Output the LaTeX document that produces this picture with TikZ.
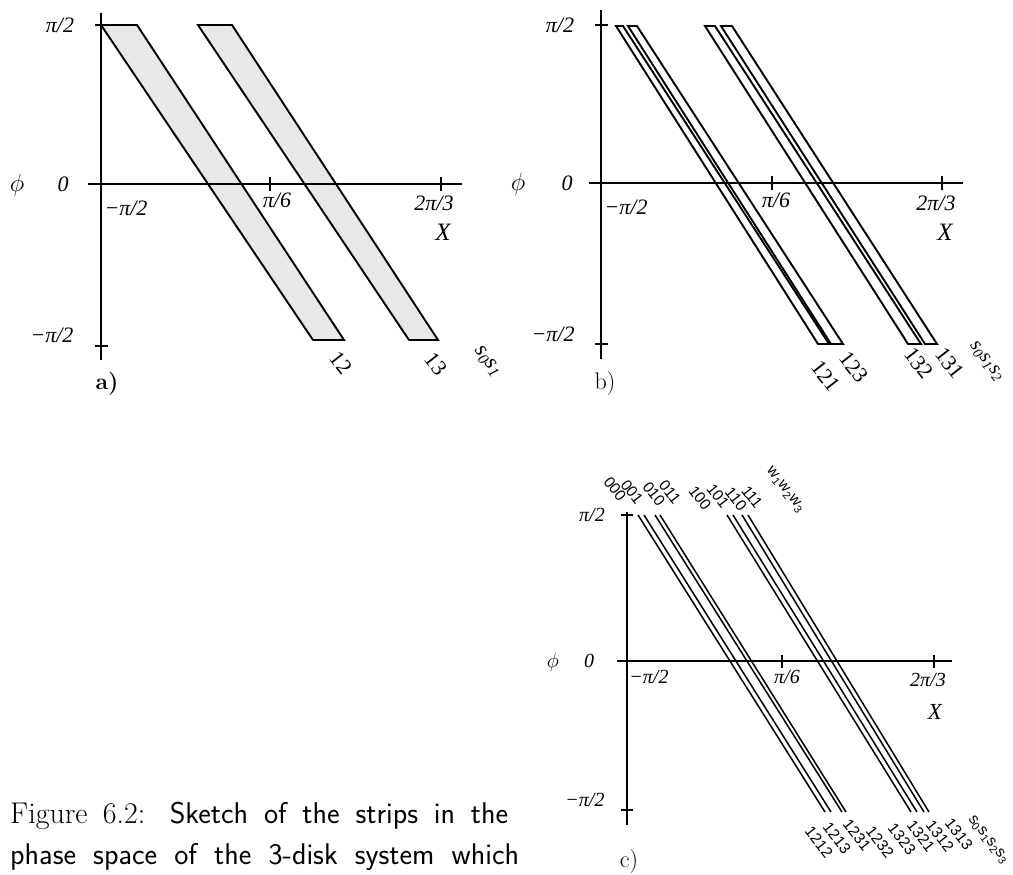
\documentclass[tikz,border=0pt]{standalone}
\usepackage{fontspec}
\newfontfamily\tms{Liberation Serif}
\newfontfamily\hlv{Liberation Sans}
\begin{document}
\begin{tikzpicture}[x=1pt,y=-1pt,
  ax/.style={line width=1.7pt},
  stripbox/.style={line width=1.9pt, line join=miter},
  thinline/.style={line width=1.5pt},
  lbl/.style={font=\tms\itshape\fontsize{22}{22}\selectfont, inner sep=0},
  lblc/.style={font=\tms\itshape\fontsize{20}{20}\selectfont, inner sep=0},
  slbl/.style={font=\tms\fontsize{22}{22}\selectfont, rotate=-52, inner sep=0},
  sslbl/.style={font=\tms\itshape\fontsize{22}{22}\selectfont, rotate=-52, inner sep=0, anchor=west},
  clbl/.style={font=\hlv\fontsize{15.5}{15.5}\selectfont, rotate=-52, inner sep=0},
  panel/.style={font=\rmfamily\fontsize{24}{24}\selectfont, inner sep=0},
  captxt/.style={font=\fontsize{30}{30}\selectfont, inner sep=0, anchor=base west}
]
\useasboundingbox (0,0) rectangle (1013,875);

% ---------------- panel a ----------------
\draw[stripbox, fill=gray!18] (101,25) -- (137,25) -- (344,340) -- (313,340) -- cycle;
\draw[stripbox, fill=gray!18] (198,25) -- (232,25) -- (438,340) -- (409,340) -- cycle;
\draw[ax] (101,13) -- (101,360);
\draw[ax] (88,184) -- (462,184);
\draw[ax] (95,25) -- (108,25);
\draw[ax] (95,346) -- (108,346);
\draw[ax] (270,177) -- (270,191);
\draw[ax] (441,177) -- (441,191);
\draw[ax] (101,179) -- (101,189);
\node[lbl] (a-pi2) at (60,25) {π/2};
\node[lbl] (a-zero) at (63,184) {0};
\node[inner sep=0, font=\fontsize{24}{24}\selectfont] (a-phi) at (17,185) {$\phi$};
\node[lbl] (a-mpi2) at (52,335) {−π/2};
\node[lbl] (a-mpi2x) at (126,208) {−π/2};
\node[lbl] (a-pi6) at (277,200) {π/6};
\node[lbl] (a-2pi3) at (434,203) {2π/3};
\node[lbl, font=\tms\itshape\fontsize{25}{25}\selectfont] (a-X) at (443,232) {X};
\node[slbl] (a-12) at (341,363) {12};
\node[slbl] (a-13) at (436,364) {13};
\node[sslbl] (a-s) at (477,348) {s\textsubscript{0}s\textsubscript{1}};
\node[panel, font=\rmfamily\bfseries\fontsize{23}{23}\selectfont] (a-lab) at (107,384) {a)};

% ---------------- panel b ----------------
\draw[stripbox] (616,26) -- (623,26) -- (829,344) -- (818,344) -- cycle;
\draw[stripbox] (628,26) -- (637,26) -- (843,344) -- (831,344) -- cycle;
\draw[stripbox] (705,26) -- (715,26) -- (921,344) -- (908,344) -- cycle;
\draw[stripbox] (721,26) -- (732,26) -- (937,344) -- (925,344) -- cycle;
\draw[ax] (601,10) -- (601,359);
\draw[ax] (589,183) -- (963,183);
\draw[ax] (595,25) -- (608,25);
\draw[ax] (595,344) -- (608,344);
\draw[ax] (772,176) -- (772,190);
\draw[ax] (942,176) -- (942,190);
\node[lbl] (b-pi2) at (560,25) {π/2};
\node[lbl] (b-zero) at (567,183) {0};
\node[inner sep=0, font=\fontsize{24}{24}\selectfont] (b-phi) at (518,184) {$\phi$};
\node[lbl] (b-mpi2) at (553,334) {−π/2};
\node[lbl] (b-mpi2x) at (626,207) {−π/2};
\node[lbl] (b-pi6) at (776,200) {π/6};
\node[lbl] (b-2pi3) at (936,203) {2π/3};
\node[lbl, font=\tms\itshape\fontsize{25}{25}\selectfont] (b-X) at (945,232) {X};
\node[slbl] (b-121) at (826,376) {121};
\node[slbl] (b-123) at (854,367) {123};
\node[slbl] (b-132) at (919,363) {132};
\node[slbl] (b-131) at (950,363) {131};
\node[sslbl, font=\tms\itshape\fontsize{20}{20}\selectfont] (b-s) at (972,343) {s\textsubscript{0}s\textsubscript{1}s\textsubscript{2}};
\node[panel] (b-lab) at (605,384) {b)};

% ---------------- panel c ----------------
\draw[ax] (627,512) -- (627,825);
\draw[ax] (617,661) -- (952,661);
\draw[ax] (621,515) -- (633,515);
\draw[ax] (621,810) -- (633,810);
\draw[ax] (782,655) -- (782,668);
\draw[ax] (934,655) -- (934,668);
\draw[thinline] (638,515) -- (825,812);
\draw[thinline] (644,515) -- (831,812);
\draw[thinline] (655,515) -- (842,812);
\draw[thinline] (660,515) -- (846,812);
\draw[thinline] (727,515) -- (911,812);
\draw[thinline] (733,515) -- (917,812);
\draw[thinline] (742,515) -- (924,812);
\draw[thinline] (748,515) -- (929,812);
\node[lblc] (c-pi2) at (592,515) {π/2};
\node[lblc] (c-zero) at (589,661) {0};
\node[inner sep=0, font=\fontsize{22}{22}\selectfont] (c-phi) at (553,662) {$\phi$};
\node[lblc] (c-mpi2) at (585,800) {−π/2};
\node[lblc] (c-mpi2x) at (649,677) {−π/2};
\node[lblc] (c-pi6) at (787,677) {π/6};
\node[lblc] (c-2pi3) at (928,680) {2π/3};
\node[lblc, font=\tms\itshape\fontsize{23}{23}\selectfont] (c-X) at (935,712) {X};
\node[clbl] (c-000) at (615,489) {000};
\node[clbl] (c-001) at (632,492) {001};
\node[clbl] (c-010) at (654,494) {010};
\node[clbl] (c-011) at (670,492) {011};
\node[clbl] (c-100) at (700,498) {100};
\node[clbl] (c-101) at (718,496) {101};
\node[clbl] (c-110) at (736,499) {110};
\node[clbl] (c-111) at (752,497) {111};
\node[clbl] (c-w) at (785,490) {w\textsubscript{1}w\textsubscript{2}w\textsubscript{3}};
\node[clbl] (c-1212) at (819,842) {1212};
\node[clbl] (c-1213) at (837,838) {1213};
\node[clbl] (c-1231) at (857,835) {1231};
\node[clbl] (c-1232) at (880,842) {1232};
\node[clbl] (c-1323) at (902,839) {1323};
\node[clbl] (c-1321) at (921,836) {1321};
\node[clbl] (c-1312) at (940,836) {1312};
\node[clbl] (c-1313) at (959,834) {1313};
\node[clbl] (c-s) at (988,840) {s\textsubscript{0}s\textsubscript{1}s\textsubscript{2}s\textsubscript{3}};
\node[panel] (c-lab) at (629,862) {c)};

% ---------------- caption ----------------
\node[captxt] (cap1) at (10,823) {\makebox[498pt][s]{\rmfamily Figure 6.2: \sffamily Sketch of the strips in the}};
\node[captxt] (cap2) at (10,864) {\makebox[509pt][s]{\sffamily phase space of the 3-disk system which}};
\end{tikzpicture}
\end{document}
